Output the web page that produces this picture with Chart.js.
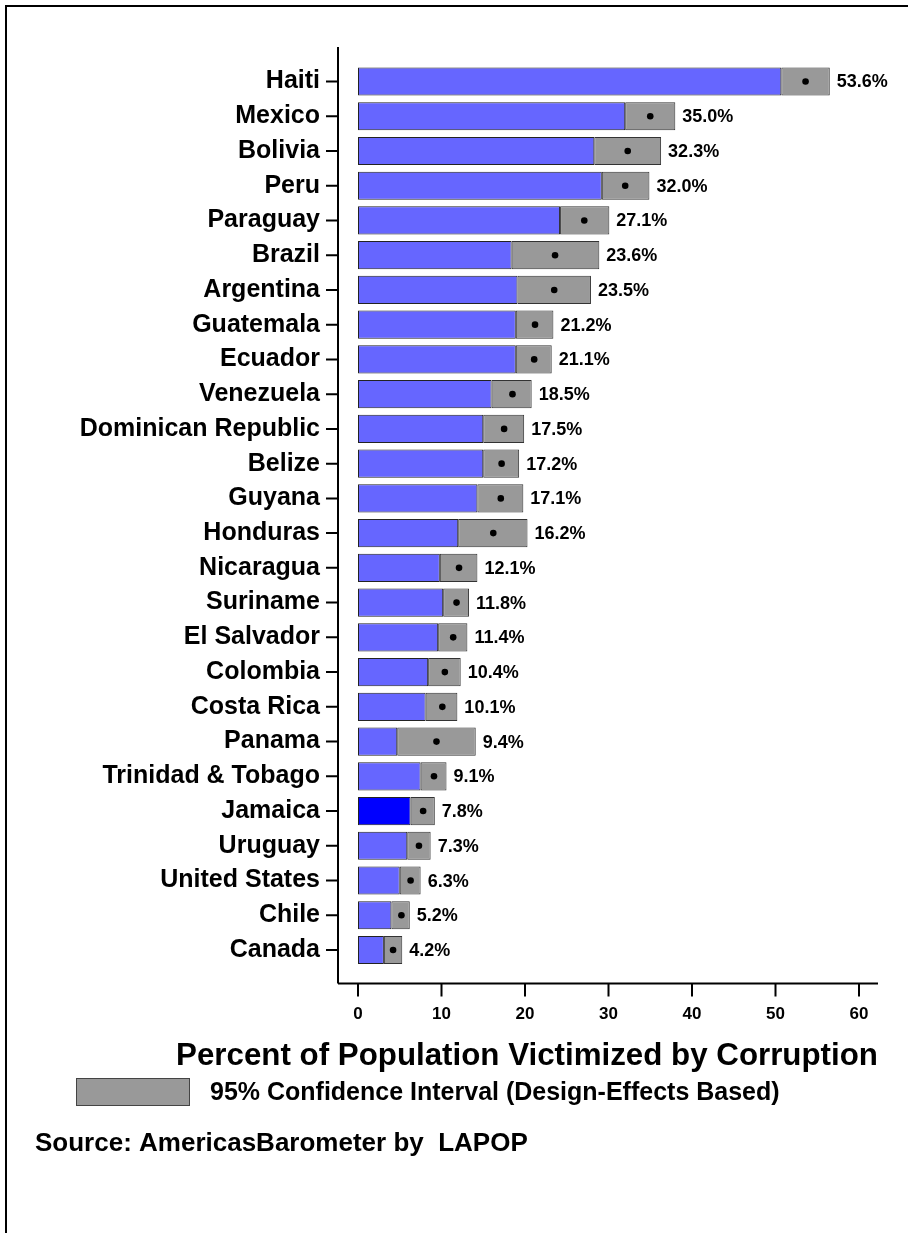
<!DOCTYPE html>
<html><head><meta charset="utf-8">
<script src="https://cdn.jsdelivr.net/npm/chart.js@4.4.1/dist/chart.umd.min.js"></script>
<style>html,body{margin:0;padding:0;background:#fff}#wrap{width:908px;height:1233px;position:relative}canvas{display:block}</style>
</head><body><div id="wrap"><canvas id="c" width="908" height="1233"></canvas></div>
<script>
const countries = ["Haiti","Mexico","Bolivia","Peru","Paraguay","Brazil","Argentina","Guatemala","Ecuador","Venezuela","Dominican Republic","Belize","Guyana","Honduras","Nicaragua","Suriname","El Salvador","Colombia","Costa Rica","Panama","Trinidad & Tobago","Jamaica","Uruguay","United States","Chile","Canada"];
const means = [53.6,35.0,32.3,32.0,27.1,23.6,23.5,21.2,21.1,18.5,17.5,17.2,17.1,16.2,12.1,11.8,11.4,10.4,10.1,9.4,9.1,7.8,7.3,6.3,5.2,4.2];
const lowerCI = [50.7,32.0,28.3,29.2,24.2,18.4,19.1,18.9,18.9,16.0,15.0,15.0,14.3,12.0,9.8,10.2,9.6,8.4,8.1,4.7,7.5,6.3,5.9,5.0,4.0,3.1];
const upperCI = [56.5,38.0,36.3,34.9,30.1,28.9,27.9,23.4,23.2,20.8,19.9,19.3,19.8,20.3,14.3,13.3,13.1,12.3,11.9,14.1,10.6,9.2,8.7,7.5,6.2,5.3];
const xTicks = [0,10,20,30,40,50,60];
const highlighted = "Jamaica";
const axisTitle = "Percent of Population Victimized by Corruption";
const legendText = "95% Confidence Interval (Design-Effects Based)";
const sourceText = "Source: AmericasBarometer by  LAPOP";

const FONT = "'Liberation Sans', Arial, Helvetica, sans-serif";
const BLUE = '#6666FF', BLUE_HI = '#0000FF', GREY = '#999999';

const annot = {
  id: 'annot',
  afterDatasetsDraw(chart) {
    const ctx = chart.ctx, xs = chart.scales.x, ys = chart.scales.y;
    ctx.save();
    ctx.fillStyle = '#000';
    ctx.font = 'bold 18px ' + FONT;
    ctx.textAlign = 'left';
    ctx.textBaseline = 'middle';
    countries.forEach((c, i) => {
      ctx.fillText(means[i].toFixed(1) + '%', xs.getPixelForValue(upperCI[i]) + 7, ys.getPixelForValue(i) + 1);
    });
    ctx.restore();
  },
  afterDraw(chart) {
    const ctx = chart.ctx, xs = chart.scales.x, ys = chart.scales.y, a = chart.chartArea;
    ctx.save();
    ctx.strokeStyle = '#000';
    ctx.lineWidth = 2;
    // frame
    ctx.beginPath();
    ctx.moveTo(6, 1233); ctx.lineTo(6, 6); ctx.lineTo(908, 6);
    ctx.stroke();
    const axX = a.left - 20, axY = a.bottom + 16;
    ctx.beginPath();
    ctx.moveTo(axX, 47); ctx.lineTo(axX, axY);
    ctx.moveTo(axX, axY); ctx.lineTo(a.right + 19, axY);
    countries.forEach((c, i) => {
      const y = ys.getPixelForValue(i);
      ctx.moveTo(axX - 12, y); ctx.lineTo(axX, y);
    });
    xs.ticks.forEach(t => {
      const x = xs.getPixelForValue(t.value);
      ctx.moveTo(x, axY); ctx.lineTo(x, axY + 13);
    });
    ctx.stroke();
    // axis title
    ctx.fillStyle = '#000';
    ctx.textBaseline = 'middle';
    ctx.textAlign = 'center';
    ctx.font = 'bold 31.3px ' + FONT;
    ctx.fillText(axisTitle, 527, 1056);
    // legend
    ctx.fillStyle = GREY;
    ctx.fillRect(76, 1078, 114, 28);
    ctx.lineWidth = 1;
    ctx.strokeStyle = '#444';
    ctx.strokeRect(76.5, 1078.5, 113, 27);
    ctx.fillStyle = '#000';
    ctx.textAlign = 'left';
    ctx.font = 'bold 25px ' + FONT;
    ctx.fillText(legendText, 210, 1093);
    ctx.font = 'bold 26px ' + FONT;
    ctx.fillText(sourceText, 35, 1144);
    ctx.restore();
  }
};

new Chart(document.getElementById('c'), {
  type: 'bar',
  data: {
    labels: countries,
    datasets: [
      {
        label: 'Lower bound',
        data: lowerCI,
        backgroundColor: countries.map(c => c === highlighted ? BLUE_HI : BLUE),
        borderColor: '#222',
        borderWidth: 1,
        borderSkipped: false,
        grouped: false,
        barPercentage: 0.81,
        categoryPercentage: 1,
        order: 3
      },
      {
        label: '95% CI',
        data: countries.map((c, i) => [lowerCI[i], upperCI[i]]),
        backgroundColor: GREY,
        borderColor: '#333',
        borderWidth: 1,
        borderSkipped: false,
        grouped: false,
        barPercentage: 0.81,
        categoryPercentage: 1,
        order: 2
      },
      {
        type: 'line',
        label: 'Mean',
        indexAxis: 'y',
        data: means,
        showLine: false,
        pointRadius: 3.3,
        pointBackgroundColor: '#000',
        pointBorderWidth: 0,
        order: 1
      }
    ]
  },
  plugins: [annot],
  options: {
    indexAxis: 'y',
    responsive: false,
    animation: false,
    devicePixelRatio: 1,
    layout: { padding: { left: 6, top: 64.1, right: 49, bottom: 205.6 } },
    plugins: { legend: { display: false }, tooltip: { enabled: false } },
    scales: {
      x: {
        type: 'linear', min: 0, max: 60,
        afterBuildTicks: s => { s.ticks = xTicks.map(v => ({ value: v })); },
        afterFit: s => { s.height = 60; },
        grid: { display: false }, border: { display: false },
        ticks: { color: '#000', font: { family: FONT, size: 17, weight: 'bold' }, padding: 29 }
      },
      y: {
        type: 'category', offset: true,
        afterFit: s => { s.width = 352; },
        grid: { display: false }, border: { display: false },
        ticks: { color: '#000', autoSkip: false, font: { family: FONT, size: 25, weight: 'bold' }, padding: 30 }
      }
    }
  }
});
</script>
</body></html>
